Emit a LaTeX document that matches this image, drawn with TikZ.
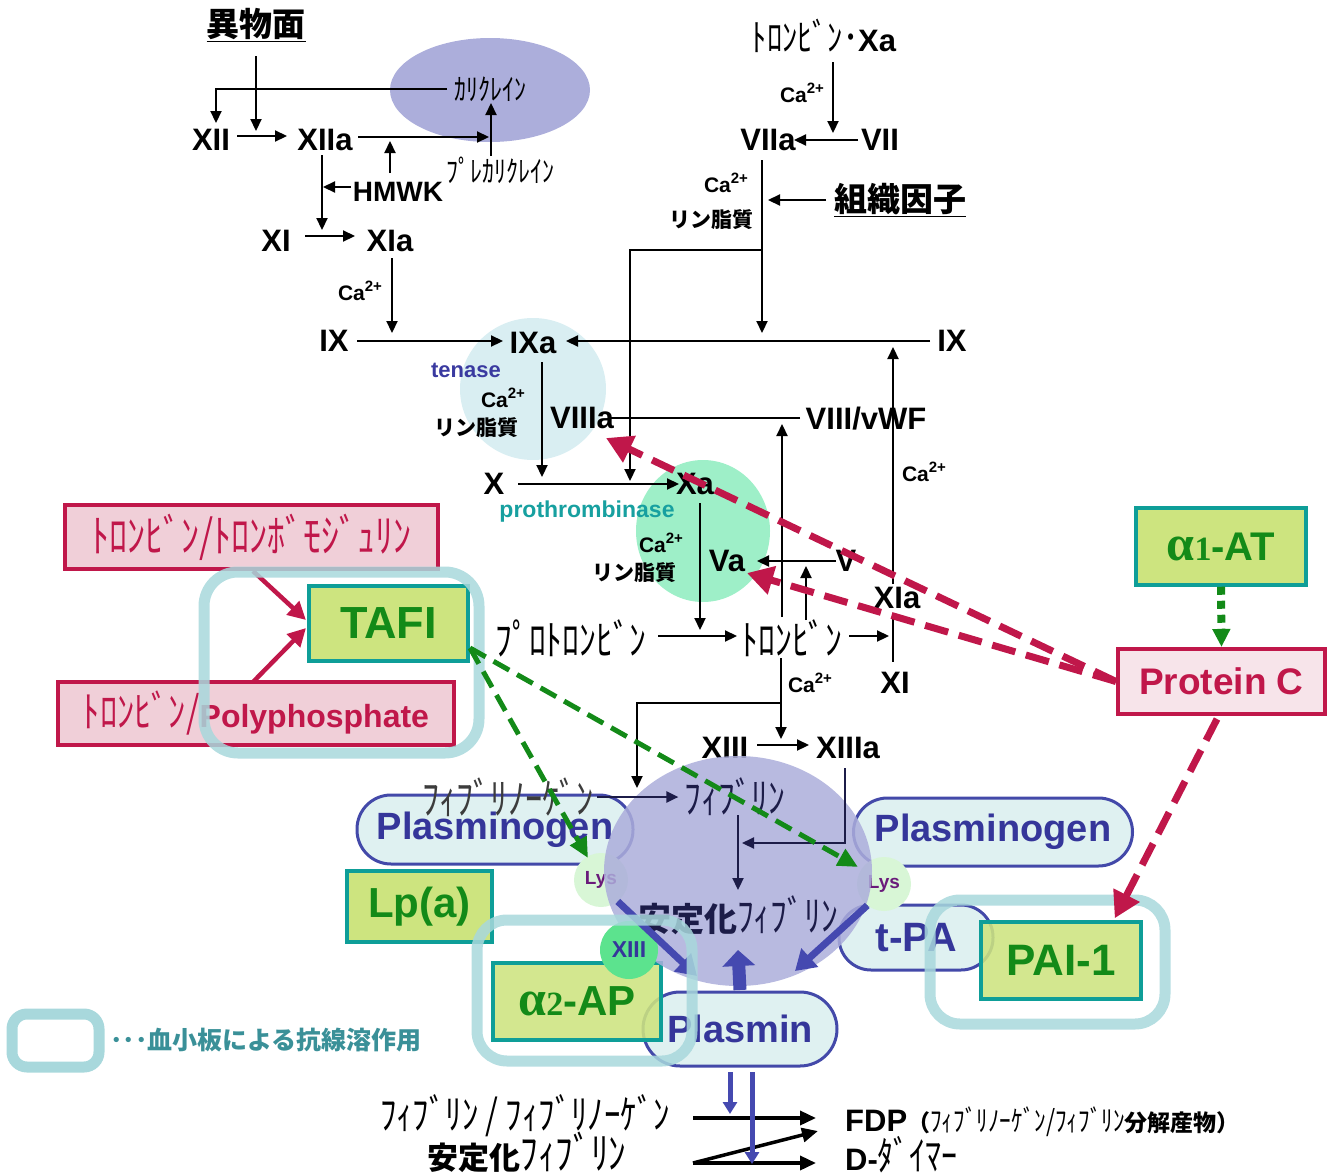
\documentclass[tikz,border=0pt]{standalone}
\usepackage{fontspec}
\setmainfont{Liberation Sans}
\newfontfamily\jp{Noto Sans CJK JP}
\newfontfamily\jpn{Noto Sans CJK JP}[FakeStretch=0.8]
\newfontfamily\srf{Liberation Serif}
\usetikzlibrary{arrows.meta}
\newcommand\myfs[1]{\fontsize{#1}{#1}\selectfont}
\newcommand\caa{Ca\raisebox{0.42em}{\myfs{15}2+}}
\definecolor{lav}{HTML}{ACAEDB}
\definecolor{tenc}{HTML}{D9EEF2}
\definecolor{proc}{HTML}{9EEFC8}
\definecolor{pillf}{HTML}{DFF1F1}
\definecolor{pilld}{HTML}{4349A9}
\definecolor{pillt}{HTML}{35369A}
\definecolor{grf}{HTML}{CDE47F}
\definecolor{grd}{HTML}{0E9E98}
\definecolor{grt}{HTML}{138A18}
\definecolor{pkf}{HTML}{F0CFD8}
\definecolor{pkd}{HTML}{C0174A}
\definecolor{pcf}{HTML}{F7E4EA}
\definecolor{tealo}{HTML}{A8D8DC}
\definecolor{legt}{HTML}{3A9098}
\definecolor{lysf}{HTML}{D8F6D6}
\definecolor{lyst}{HTML}{6A1A7A}
\definecolor{xiiif}{HTML}{5CE38E}
\definecolor{tenaset}{HTML}{3A3AA0}
\definecolor{prot}{HTML}{17A0A0}
\definecolor{navy}{HTML}{1C1C48}
\definecolor{blu}{HTML}{4549B0}
\definecolor{fgray}{HTML}{3C3C3C}
\tikzset{
  lbl/.style={inner sep=0pt, text depth=0pt, font=\bfseries\myfs{31}},
  cal/.style={inner sep=0pt, font=\bfseries\myfs{21}},
  kat/.style={inner sep=0pt, font=\jpn\myfs{#1}},
  jpb/.style={inner sep=0pt, font=\jp\bfseries\myfs{#1}},
  ar/.style={line width=2.2pt, -{Triangle[length=12pt,width=11pt]}},
  ln/.style={line width=2.2pt},
  bigar/.style={line width=3.5pt, -{Triangle[length=16pt,width=14pt]}},
  pkbox/.style={draw=pkd, fill=pkf, line width=4pt, inner sep=0pt, text=pkd},
  grbox/.style={draw=grd, fill=grf, line width=3.5pt, inner sep=0pt, text=grt, font=\bfseries\myfs{44}},
  pill/.style={draw=pilld, fill=pillf, line width=3pt, inner sep=0pt, text=pillt, font=\bfseries\myfs{38}},
  tealbox/.style={draw=tealo, line width=11pt, opacity=0.85},
  rdash/.style={draw=pkd, line width=7pt, dash pattern=on 24pt off 11pt, -{Triangle[length=26pt,width=28pt]}},
  gdash/.style={draw=grt, line width=5pt, dash pattern=on 18pt off 9pt, -{Triangle[length=20pt,width=18pt]}},
  blar/.style={draw=blu, line width=7pt, -{Triangle[length=20pt,width=24pt]}},
}
\begin{document}
\begin{tikzpicture}[x=1pt,y=-1pt]
\useasboundingbox (0,0) rectangle (1334,1175);
% background blobs
\fill[lav] (490,90) ellipse [x radius=100pt, y radius=52pt];
\fill[tenc] (533,389) ellipse [x radius=73pt, y radius=71pt];
\fill[proc] (703,531) ellipse [x radius=67pt, y radius=71pt];

% ---- labels of the cascade ----
\node[jpb=33] (ibutsu) at (256,25) {\underline{異物面}};
\node[kat=30] (kal) at (490,89) {ｶﾘｸﾚｲﾝ};
\node[lbl] (XII) at (211,140) {XII};
\node[lbl] (XIIa) at (325,140) {XIIa};
\node[kat=30] (prekal) at (500,170) {ﾌﾟﾚｶﾘｸﾚｲﾝ};
\node[lbl, font=\bfseries\myfs{28}] (HMWK) at (398,192) {HMWK};
\node[lbl] (XI) at (276,241) {XI};
\node[lbl] (XIa) at (390,241) {XIa};
\node[cal] (ca1) at (360,291) {\caa};
\node[lbl] (IXl) at (334,341) {IX};
\node[lbl] (IXa) at (533,343) {IXa};
\node[lbl] (IXr) at (952,341) {IX};
\node[inner sep=0pt] (tx) at (824,36) {{\jpn\myfs{38}ﾄﾛﾝﾋﾞﾝ･}{\bfseries\myfs{31}Xa}};
\node[cal] (ca2) at (802,93) {\caa};
\node[lbl] (VIIa) at (768,140) {VIIa};
\node[lbl] (VII) at (880,140) {VII};
\node[cal] (ca3) at (726,183) {\caa};
\node[jpb=21] (rin1) at (711,220) {リン脂質};
\node[jpb=33] (soshiki) at (900,200) {\underline{組織因子}};
\node[inner sep=0pt, font=\bfseries\myfs{22}, text=tenaset] (tenase) at (466,370) {tenase};
\node[cal] (ca4) at (503,398) {\caa};
\node[jpb=21] (rin2) at (476,428) {リン脂質};
\node[lbl] (VIIIa) at (582,418) {VIIIa};
\node[lbl] (VIII) at (866,418) {VIII/vWF};
\node[cal] (ca5) at (924,472) {\caa};
\node[lbl] (X) at (494,484) {X};
\node[lbl] (Xa) at (695,484) {Xa};
\node[inner sep=0pt, font=\bfseries\myfs{23}, text=prot] (proth) at (587,512) {prothrombinase};
\node[cal] (ca6) at (661,543) {\caa};
\node[jpb=21] (rin3) at (634,573) {リン脂質};
\node[lbl] (Va) at (727,561) {Va};
\node[lbl] (V) at (846,561) {V};
\node[lbl] (XIa2) at (897,598) {XIa};
\node[kat=42] (prothr) at (571,638) {ﾌﾟﾛﾄﾛﾝﾋﾞﾝ};
\node[kat=42] (thr) at (792,638) {ﾄﾛﾝﾋﾞﾝ};
\node[lbl] (XI2) at (895,683) {XI};
\node[cal] (ca7) at (810,683) {\caa};
\node[lbl] (XIII) at (725,748) {XIII};
\node[lbl] (XIIIa) at (848,748) {XIIIa};

% ---- black connectors ----
\coordinate (j1) at (256,131);
\draw[ar] (256,56) -- (j1);
\draw[ar] (447,89) -| (216,123);
\draw[ar] (237,136) -- (287,136);
\draw[ar] (358,137) -- (489,137);
\draw[ar] (491,156) -- (491,103);
\draw[ar] (390,173) -- (390,141);
\draw[ar] (351,187) -- (323,187);
\draw[ar] (322,155) -- (322,230);
\draw[ar] (305,236) -- (355,236);
\draw[ar] (392,258) -- (392,333);
\draw[ar] (357,341) -- (503,341);
\draw[ar] (930,341) -- (566,341);
\draw[ar] (833,62) -- (833,133);
\draw[ar] (858,140) -- (794,140);
\draw[ar] (762,160) -- (762,333);
\draw[ar] (826,200) -- (768,200);
\draw[ar] (762,250) -| (630,481);
\draw[ar] (893,584) -- (893,347);
\draw[ln] (893,616) -- (893,662);
\draw[ln] (800,418) -- (610,418);
\draw[ar] (782,617) -- (782,424);
\draw[ar] (542,362) -- (542,477);
\draw[ar] (518,484) -- (679,484);
\draw[ar] (836,561) -- (757,561);
\draw[ar] (806,620) -- (806,566);
\draw[ar] (700,503) -- (700,630);
\draw[ar] (658,636) -- (737,636);
\draw[ar] (849,636) -- (889,636);
\draw[ar] (781,658) -- (781,739);
\draw[ar] (781,703) -| (637,788);
\draw[ar] (757,745) -- (809,745);

% ---- pink / green boxes ----
\node[pkbox, minimum width=373pt, minimum height=64pt] (TM) at (251.5,537) {\jpn\myfs{45}ﾄﾛﾝﾋﾞﾝ/ﾄﾛﾝﾎﾞﾓｼﾞｭﾘﾝ};
\node[pkbox, minimum width=396pt, minimum height=63pt] (PP) at (256,713.5) {{\jpn\myfs{43}ﾄﾛﾝﾋﾞﾝ/}{\bfseries\myfs{32}Polyphosphate}};
\node[grbox, minimum width=159pt, minimum height=75pt, font=\bfseries\myfs{45}] (TAFI) at (388.5,623.5) {TAFI};
\node[grbox, minimum width=170pt, minimum height=77pt] (a1AT) at (1221,546.5) {{\srf\myfs{50}α}{\srf\myfs{34}1}{\bfseries\myfs{40}-AT}};
\node[pkbox, fill=pcf, minimum width=207pt, minimum height=65pt, font=\bfseries\myfs{37}] (PC) at (1221.5,681.5) {Protein C};
\draw[pkd, line width=4.5pt, -{Triangle[length=18pt,width=18pt]}] (253,571) -- (306,620);
\draw[pkd, line width=4.5pt, -{Triangle[length=18pt,width=18pt]}] (253,682) -- (306,628);

% ---- fibrinolysis part ----
\node[pill, rounded corners=34pt, minimum width=276pt, minimum height=69pt] (PgL) at (495,829.5) {Plasminogen};
\node[pill, rounded corners=34pt, minimum width=279pt, minimum height=68pt] (PgR) at (993,832) {Plasminogen};
\node[pill, rounded corners=32pt, minimum width=154pt, minimum height=65pt, font=\bfseries\myfs{41}] (tPA) at (916,937.5) {t-PA};
\node[pill, rounded corners=37pt, minimum width=194pt, minimum height=74pt] (Plm) at (740,1029) {Plasmin};
\node[grbox, minimum width=145pt, minimum height=71pt, font=\bfseries\myfs{42}] (Lpa) at (419.5,906.5) {Lp(a)};
\node[grbox, fill opacity=0.88, text opacity=1, minimum width=168pt, minimum height=77pt] (a2AP) at (577,1001.5) {{\srf\myfs{50}α}{\srf\myfs{34}2}{\bfseries\myfs{42}-AP}};
\node[grbox, fill opacity=0.88, text opacity=1, minimum width=160pt, minimum height=77pt] (PAI) at (1061,960.5) {PAI-1};
\node[circle, fill=lysf, minimum size=54pt, inner sep=0pt, font=\bfseries\myfs{19}, text=lyst] (lysL) at (601,880) {Lys};
\node[circle, fill=lysf, minimum size=54pt, inner sep=0pt, font=\bfseries\myfs{19}, text=lyst] (lysR) at (884,884) {Lys};
\node[kat=43, text=fgray] (fbg) at (508,797) {ﾌｨﾌﾞﾘﾉｰｹﾞﾝ};

% big lavender clot
\fill[lav, opacity=0.85] (738,871) ellipse [x radius=134pt, y radius=115pt];
\node[kat=42, text=navy] (fbn) at (735,797) {ﾌｨﾌﾞﾘﾝ};
\node[inner sep=0pt, text=navy] (stab) at (738,915) {{\jp\bfseries\myfs{33}安定化}{\jpn\myfs{42}ﾌｨﾌﾞﾘﾝ}};
\draw[ar, navy] ([xshift=3pt]fbg.east) -- ([xshift=-6pt]fbn.west);
\draw[ar, navy] (845,768) |- (742,843);
\draw[ar, navy] (738,815) -- (738,890);

\node[circle, fill=xiiif, minimum size=58pt, inner sep=0pt, font=\bfseries\myfs{23}, text=pillt] (x13) at (629,950) {XIII};

% thick blue arrows
\draw[blar] (lysL.-52) -- (697,976);
\draw[blar] (lysR.-128) -- (795,971);
\draw[blu, line width=13pt, -{Triangle[length=16pt,width=32pt]}] (Plm.north |- 0,990) -- (738,950);

% platelet antifibrinolytic outlines
\draw[tealbox, rounded corners=34pt] (204,572) rectangle (479,753);
\draw[tealbox, rounded corners=30pt] (477,920) rectangle (692,1061);
\draw[tealbox, rounded corners=30pt] (930,900) rectangle (1165,1024);

% dashed inhibitor / activator arrows
\draw[rdash] (PC.west) -- (606,438);
\draw[rdash] (PC.west) -- (747,573);
\draw[rdash] (1217,719) -- ([xshift=-28pt,yshift=2pt]PAI.north east);
\coordinate (ts) at (470,648);
\draw[gdash] (ts) -- (588,858);
\draw[gdash] (ts) -- (858,867);
\draw[draw=grt, line width=8pt, dash pattern=on 8pt off 6pt, -{Triangle[length=18pt,width=17pt]}] (a1AT.south) -- (PC.north);

% legend
\draw[tealo, line width=11pt, rounded corners=15pt] (12,1014) rectangle (99,1067);
\node[anchor=west, inner sep=0pt, font=\jp\bfseries\myfs{25}, text=legt] (leg) at (110,1040) {･･･血小板による抗線溶作用};

% degradation products
\node[kat=41] (fb1) at (525,1116) {ﾌｨﾌﾞﾘﾝ / ﾌｨﾌﾞﾘﾉｰｹﾞﾝ};
\node[inner sep=0pt] (fb2) at (527,1152) {{\jp\bfseries\myfs{31}安定化}{\jpn\myfs{44}ﾌｨﾌﾞﾘﾝ}};
\node[anchor=west, inner sep=0pt] (FDP) at (845,1122) {{\bfseries\myfs{31}FDP}{\jp\bfseries\myfs{23}（}{\jpn\myfs{29}ﾌｨﾌﾞﾘﾉｰｹﾞﾝ/ﾌｨﾌﾞﾘﾝ}{\jp\bfseries\myfs{23}分解産物）}};
\node[anchor=west, inner sep=0pt] (DD) at (845,1155) {{\bfseries\myfs{31}D-}{\jpn\myfs{40}ﾀﾞｲﾏｰ}};
\draw[bigar] (693,1118) -- (816,1118);
\draw[bigar] (693,1163) -- (818,1131);
\draw[bigar] (693,1163) -- (816,1163);
\draw[blu, line width=5pt, -{Triangle[length=12pt,width=14pt]}] (730,1072) -- (730,1114);
\draw[blu, line width=5pt, -{Triangle[length=12pt,width=14pt]}] (752,1072) -- (752,1164);
\end{tikzpicture}
\end{document}
